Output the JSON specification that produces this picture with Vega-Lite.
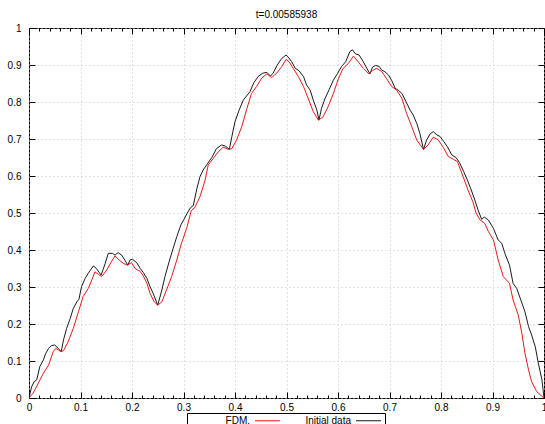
{
  "$schema": "https://vega.github.io/schema/vega-lite/v6.json",
  "width": 515,
  "height": 370,
  "autosize": {"type": "none"},
  "padding": {"left": 29, "top": 28, "right": 1, "bottom": 26},
  "background": "white",
  "title": {"text": "t=0.00585938", "fontSize": 10, "font": "Liberation Sans", "fontWeight": "normal", "color": "#000", "offset": 3, "anchor": "middle"},
  "config": {
    "view": {"stroke": "#000", "strokeWidth": 1},
    "font": "Liberation Sans",
    "axis": {"labelFont": "Liberation Sans", "labelFontSize": 10, "labelColor": "#000", "ticks": true, "tickColor": "#000", "tickOpacity": 1, "tickWidth": 1, "domain": false, "gridColor": "#c4c4c4", "gridDash": [1, 3], "gridWidth": 1}
  },
  "data": {"values": [
    {"s": "Initial data", "x": 0, "y": 0},
    {"s": "Initial data", "x": 0.005, "y": 0.03},
    {"s": "Initial data", "x": 0.01, "y": 0.044},
    {"s": "Initial data", "x": 0.015, "y": 0.049},
    {"s": "Initial data", "x": 0.021, "y": 0.085},
    {"s": "Initial data", "x": 0.028, "y": 0.103},
    {"s": "Initial data", "x": 0.032, "y": 0.119},
    {"s": "Initial data", "x": 0.038, "y": 0.134},
    {"s": "Initial data", "x": 0.044, "y": 0.142},
    {"s": "Initial data", "x": 0.05, "y": 0.143},
    {"s": "Initial data", "x": 0.057, "y": 0.134},
    {"s": "Initial data", "x": 0.0625, "y": 0.125},
    {"s": "Initial data", "x": 0.067, "y": 0.157},
    {"s": "Initial data", "x": 0.073, "y": 0.188},
    {"s": "Initial data", "x": 0.08, "y": 0.215},
    {"s": "Initial data", "x": 0.086, "y": 0.242},
    {"s": "Initial data", "x": 0.093, "y": 0.26},
    {"s": "Initial data", "x": 0.097, "y": 0.267},
    {"s": "Initial data", "x": 0.102, "y": 0.301},
    {"s": "Initial data", "x": 0.109, "y": 0.323},
    {"s": "Initial data", "x": 0.115, "y": 0.337},
    {"s": "Initial data", "x": 0.125, "y": 0.357},
    {"s": "Initial data", "x": 0.131, "y": 0.35},
    {"s": "Initial data", "x": 0.14, "y": 0.332},
    {"s": "Initial data", "x": 0.148, "y": 0.364},
    {"s": "Initial data", "x": 0.154, "y": 0.391},
    {"s": "Initial data", "x": 0.162, "y": 0.391},
    {"s": "Initial data", "x": 0.167, "y": 0.386},
    {"s": "Initial data", "x": 0.173, "y": 0.393},
    {"s": "Initial data", "x": 0.18, "y": 0.386},
    {"s": "Initial data", "x": 0.186, "y": 0.373},
    {"s": "Initial data", "x": 0.192, "y": 0.359},
    {"s": "Initial data", "x": 0.196, "y": 0.373},
    {"s": "Initial data", "x": 0.201, "y": 0.375},
    {"s": "Initial data", "x": 0.209, "y": 0.366},
    {"s": "Initial data", "x": 0.216, "y": 0.35},
    {"s": "Initial data", "x": 0.222, "y": 0.339},
    {"s": "Initial data", "x": 0.229, "y": 0.323},
    {"s": "Initial data", "x": 0.235, "y": 0.301},
    {"s": "Initial data", "x": 0.241, "y": 0.283},
    {"s": "Initial data", "x": 0.25, "y": 0.251},
    {"s": "Initial data", "x": 0.258, "y": 0.292},
    {"s": "Initial data", "x": 0.264, "y": 0.328},
    {"s": "Initial data", "x": 0.272, "y": 0.368},
    {"s": "Initial data", "x": 0.28, "y": 0.405},
    {"s": "Initial data", "x": 0.287, "y": 0.436},
    {"s": "Initial data", "x": 0.295, "y": 0.468},
    {"s": "Initial data", "x": 0.301, "y": 0.483},
    {"s": "Initial data", "x": 0.307, "y": 0.499},
    {"s": "Initial data", "x": 0.314, "y": 0.515},
    {"s": "Initial data", "x": 0.319, "y": 0.52},
    {"s": "Initial data", "x": 0.326, "y": 0.566},
    {"s": "Initial data", "x": 0.332, "y": 0.598},
    {"s": "Initial data", "x": 0.338, "y": 0.616},
    {"s": "Initial data", "x": 0.346, "y": 0.632},
    {"s": "Initial data", "x": 0.355, "y": 0.65},
    {"s": "Initial data", "x": 0.364, "y": 0.674},
    {"s": "Initial data", "x": 0.374, "y": 0.684},
    {"s": "Initial data", "x": 0.381, "y": 0.681},
    {"s": "Initial data", "x": 0.389, "y": 0.672},
    {"s": "Initial data", "x": 0.394, "y": 0.707},
    {"s": "Initial data", "x": 0.4, "y": 0.747},
    {"s": "Initial data", "x": 0.408, "y": 0.778},
    {"s": "Initial data", "x": 0.416, "y": 0.805},
    {"s": "Initial data", "x": 0.424, "y": 0.819},
    {"s": "Initial data", "x": 0.429, "y": 0.828},
    {"s": "Initial data", "x": 0.437, "y": 0.853},
    {"s": "Initial data", "x": 0.445, "y": 0.869},
    {"s": "Initial data", "x": 0.454, "y": 0.878},
    {"s": "Initial data", "x": 0.462, "y": 0.88},
    {"s": "Initial data", "x": 0.469, "y": 0.87},
    {"s": "Initial data", "x": 0.474, "y": 0.878},
    {"s": "Initial data", "x": 0.482, "y": 0.9},
    {"s": "Initial data", "x": 0.491, "y": 0.918},
    {"s": "Initial data", "x": 0.499, "y": 0.927},
    {"s": "Initial data", "x": 0.503, "y": 0.922},
    {"s": "Initial data", "x": 0.51, "y": 0.909},
    {"s": "Initial data", "x": 0.517, "y": 0.891},
    {"s": "Initial data", "x": 0.524, "y": 0.885},
    {"s": "Initial data", "x": 0.533, "y": 0.869},
    {"s": "Initial data", "x": 0.539, "y": 0.846},
    {"s": "Initial data", "x": 0.546, "y": 0.832},
    {"s": "Initial data", "x": 0.552, "y": 0.805},
    {"s": "Initial data", "x": 0.559, "y": 0.778},
    {"s": "Initial data", "x": 0.563, "y": 0.751},
    {"s": "Initial data", "x": 0.568, "y": 0.783},
    {"s": "Initial data", "x": 0.575, "y": 0.81},
    {"s": "Initial data", "x": 0.583, "y": 0.834},
    {"s": "Initial data", "x": 0.591, "y": 0.859},
    {"s": "Initial data", "x": 0.599, "y": 0.877},
    {"s": "Initial data", "x": 0.607, "y": 0.896},
    {"s": "Initial data", "x": 0.615, "y": 0.909},
    {"s": "Initial data", "x": 0.623, "y": 0.936},
    {"s": "Initial data", "x": 0.628, "y": 0.941},
    {"s": "Initial data", "x": 0.634, "y": 0.93},
    {"s": "Initial data", "x": 0.641, "y": 0.927},
    {"s": "Initial data", "x": 0.649, "y": 0.909},
    {"s": "Initial data", "x": 0.656, "y": 0.891},
    {"s": "Initial data", "x": 0.662, "y": 0.876},
    {"s": "Initial data", "x": 0.667, "y": 0.894},
    {"s": "Initial data", "x": 0.673, "y": 0.899},
    {"s": "Initial data", "x": 0.68, "y": 0.896},
    {"s": "Initial data", "x": 0.685, "y": 0.886},
    {"s": "Initial data", "x": 0.691, "y": 0.882},
    {"s": "Initial data", "x": 0.698, "y": 0.873},
    {"s": "Initial data", "x": 0.704, "y": 0.859},
    {"s": "Initial data", "x": 0.711, "y": 0.837},
    {"s": "Initial data", "x": 0.717, "y": 0.832},
    {"s": "Initial data", "x": 0.724, "y": 0.823},
    {"s": "Initial data", "x": 0.732, "y": 0.801},
    {"s": "Initial data", "x": 0.74, "y": 0.778},
    {"s": "Initial data", "x": 0.746, "y": 0.765},
    {"s": "Initial data", "x": 0.753, "y": 0.742},
    {"s": "Initial data", "x": 0.759, "y": 0.715},
    {"s": "Initial data", "x": 0.766, "y": 0.672},
    {"s": "Initial data", "x": 0.772, "y": 0.697},
    {"s": "Initial data", "x": 0.779, "y": 0.714},
    {"s": "Initial data", "x": 0.785, "y": 0.72},
    {"s": "Initial data", "x": 0.792, "y": 0.711},
    {"s": "Initial data", "x": 0.798, "y": 0.707},
    {"s": "Initial data", "x": 0.805, "y": 0.694},
    {"s": "Initial data", "x": 0.812, "y": 0.68},
    {"s": "Initial data", "x": 0.821, "y": 0.657},
    {"s": "Initial data", "x": 0.829, "y": 0.65},
    {"s": "Initial data", "x": 0.836, "y": 0.636},
    {"s": "Initial data", "x": 0.844, "y": 0.612},
    {"s": "Initial data", "x": 0.851, "y": 0.59},
    {"s": "Initial data", "x": 0.858, "y": 0.565},
    {"s": "Initial data", "x": 0.865, "y": 0.538},
    {"s": "Initial data", "x": 0.872, "y": 0.508},
    {"s": "Initial data", "x": 0.879, "y": 0.483},
    {"s": "Initial data", "x": 0.884, "y": 0.489},
    {"s": "Initial data", "x": 0.892, "y": 0.481},
    {"s": "Initial data", "x": 0.902, "y": 0.458},
    {"s": "Initial data", "x": 0.911, "y": 0.427},
    {"s": "Initial data", "x": 0.918, "y": 0.418},
    {"s": "Initial data", "x": 0.924, "y": 0.391},
    {"s": "Initial data", "x": 0.933, "y": 0.359},
    {"s": "Initial data", "x": 0.94, "y": 0.31},
    {"s": "Initial data", "x": 0.947, "y": 0.296},
    {"s": "Initial data", "x": 0.955, "y": 0.265},
    {"s": "Initial data", "x": 0.963, "y": 0.233},
    {"s": "Initial data", "x": 0.97, "y": 0.193},
    {"s": "Initial data", "x": 0.976, "y": 0.17},
    {"s": "Initial data", "x": 0.983, "y": 0.139},
    {"s": "Initial data", "x": 0.989, "y": 0.094},
    {"s": "Initial data", "x": 0.996, "y": 0.049},
    {"s": "Initial data", "x": 1, "y": 0},
    {"s": "FDM.", "x": 0, "y": 0},
    {"s": "FDM.", "x": 0.008, "y": 0.013},
    {"s": "FDM.", "x": 0.018, "y": 0.04},
    {"s": "FDM.", "x": 0.028, "y": 0.067},
    {"s": "FDM.", "x": 0.038, "y": 0.089},
    {"s": "FDM.", "x": 0.047, "y": 0.125},
    {"s": "FDM.", "x": 0.052, "y": 0.134},
    {"s": "FDM.", "x": 0.057, "y": 0.13},
    {"s": "FDM.", "x": 0.062, "y": 0.125},
    {"s": "FDM.", "x": 0.067, "y": 0.128},
    {"s": "FDM.", "x": 0.076, "y": 0.152},
    {"s": "FDM.", "x": 0.086, "y": 0.188},
    {"s": "FDM.", "x": 0.096, "y": 0.233},
    {"s": "FDM.", "x": 0.105, "y": 0.274},
    {"s": "FDM.", "x": 0.115, "y": 0.296},
    {"s": "FDM.", "x": 0.122, "y": 0.319},
    {"s": "FDM.", "x": 0.128, "y": 0.341},
    {"s": "FDM.", "x": 0.135, "y": 0.334},
    {"s": "FDM.", "x": 0.141, "y": 0.328},
    {"s": "FDM.", "x": 0.151, "y": 0.346},
    {"s": "FDM.", "x": 0.159, "y": 0.366},
    {"s": "FDM.", "x": 0.167, "y": 0.384},
    {"s": "FDM.", "x": 0.175, "y": 0.373},
    {"s": "FDM.", "x": 0.183, "y": 0.364},
    {"s": "FDM.", "x": 0.191, "y": 0.359},
    {"s": "FDM.", "x": 0.199, "y": 0.366},
    {"s": "FDM.", "x": 0.206, "y": 0.35},
    {"s": "FDM.", "x": 0.216, "y": 0.342},
    {"s": "FDM.", "x": 0.222, "y": 0.33},
    {"s": "FDM.", "x": 0.229, "y": 0.31},
    {"s": "FDM.", "x": 0.235, "y": 0.283},
    {"s": "FDM.", "x": 0.243, "y": 0.26},
    {"s": "FDM.", "x": 0.25, "y": 0.251},
    {"s": "FDM.", "x": 0.258, "y": 0.26},
    {"s": "FDM.", "x": 0.267, "y": 0.292},
    {"s": "FDM.", "x": 0.277, "y": 0.328},
    {"s": "FDM.", "x": 0.287, "y": 0.373},
    {"s": "FDM.", "x": 0.296, "y": 0.418},
    {"s": "FDM.", "x": 0.306, "y": 0.458},
    {"s": "FDM.", "x": 0.315, "y": 0.506},
    {"s": "FDM.", "x": 0.322, "y": 0.515},
    {"s": "FDM.", "x": 0.332, "y": 0.544},
    {"s": "FDM.", "x": 0.342, "y": 0.589},
    {"s": "FDM.", "x": 0.348, "y": 0.63},
    {"s": "FDM.", "x": 0.358, "y": 0.648},
    {"s": "FDM.", "x": 0.368, "y": 0.666},
    {"s": "FDM.", "x": 0.377, "y": 0.678},
    {"s": "FDM.", "x": 0.387, "y": 0.672},
    {"s": "FDM.", "x": 0.394, "y": 0.674},
    {"s": "FDM.", "x": 0.403, "y": 0.697},
    {"s": "FDM.", "x": 0.413, "y": 0.733},
    {"s": "FDM.", "x": 0.423, "y": 0.782},
    {"s": "FDM.", "x": 0.432, "y": 0.823},
    {"s": "FDM.", "x": 0.442, "y": 0.842},
    {"s": "FDM.", "x": 0.452, "y": 0.865},
    {"s": "FDM.", "x": 0.462, "y": 0.876},
    {"s": "FDM.", "x": 0.471, "y": 0.866},
    {"s": "FDM.", "x": 0.481, "y": 0.878},
    {"s": "FDM.", "x": 0.491, "y": 0.896},
    {"s": "FDM.", "x": 0.499, "y": 0.915},
    {"s": "FDM.", "x": 0.505, "y": 0.909},
    {"s": "FDM.", "x": 0.513, "y": 0.891},
    {"s": "FDM.", "x": 0.523, "y": 0.869},
    {"s": "FDM.", "x": 0.533, "y": 0.842},
    {"s": "FDM.", "x": 0.542, "y": 0.81},
    {"s": "FDM.", "x": 0.552, "y": 0.774},
    {"s": "FDM.", "x": 0.562, "y": 0.751},
    {"s": "FDM.", "x": 0.571, "y": 0.76},
    {"s": "FDM.", "x": 0.581, "y": 0.788},
    {"s": "FDM.", "x": 0.591, "y": 0.823},
    {"s": "FDM.", "x": 0.601, "y": 0.864},
    {"s": "FDM.", "x": 0.61, "y": 0.891},
    {"s": "FDM.", "x": 0.62, "y": 0.904},
    {"s": "FDM.", "x": 0.63, "y": 0.924},
    {"s": "FDM.", "x": 0.639, "y": 0.909},
    {"s": "FDM.", "x": 0.649, "y": 0.891},
    {"s": "FDM.", "x": 0.659, "y": 0.877},
    {"s": "FDM.", "x": 0.667, "y": 0.885},
    {"s": "FDM.", "x": 0.675, "y": 0.891},
    {"s": "FDM.", "x": 0.685, "y": 0.882},
    {"s": "FDM.", "x": 0.694, "y": 0.864},
    {"s": "FDM.", "x": 0.704, "y": 0.842},
    {"s": "FDM.", "x": 0.714, "y": 0.832},
    {"s": "FDM.", "x": 0.724, "y": 0.81},
    {"s": "FDM.", "x": 0.733, "y": 0.77},
    {"s": "FDM.", "x": 0.743, "y": 0.734},
    {"s": "FDM.", "x": 0.753, "y": 0.697},
    {"s": "FDM.", "x": 0.766, "y": 0.672},
    {"s": "FDM.", "x": 0.775, "y": 0.684},
    {"s": "FDM.", "x": 0.785, "y": 0.705},
    {"s": "FDM.", "x": 0.795, "y": 0.697},
    {"s": "FDM.", "x": 0.805, "y": 0.676},
    {"s": "FDM.", "x": 0.814, "y": 0.653},
    {"s": "FDM.", "x": 0.824, "y": 0.645},
    {"s": "FDM.", "x": 0.832, "y": 0.639},
    {"s": "FDM.", "x": 0.843, "y": 0.598},
    {"s": "FDM.", "x": 0.853, "y": 0.56},
    {"s": "FDM.", "x": 0.862, "y": 0.53},
    {"s": "FDM.", "x": 0.868, "y": 0.5},
    {"s": "FDM.", "x": 0.876, "y": 0.481},
    {"s": "FDM.", "x": 0.885, "y": 0.472},
    {"s": "FDM.", "x": 0.892, "y": 0.45},
    {"s": "FDM.", "x": 0.902, "y": 0.427},
    {"s": "FDM.", "x": 0.911, "y": 0.373},
    {"s": "FDM.", "x": 0.921, "y": 0.328},
    {"s": "FDM.", "x": 0.933, "y": 0.31},
    {"s": "FDM.", "x": 0.94, "y": 0.265},
    {"s": "FDM.", "x": 0.95, "y": 0.224},
    {"s": "FDM.", "x": 0.957, "y": 0.175},
    {"s": "FDM.", "x": 0.963, "y": 0.121},
    {"s": "FDM.", "x": 0.97, "y": 0.076},
    {"s": "FDM.", "x": 0.976, "y": 0.044},
    {"s": "FDM.", "x": 0.986, "y": 0.017},
    {"s": "FDM.", "x": 1, "y": 0}
  ]},
  "layer": [
    {
      "mark": {"type": "line", "strokeWidth": 1, "clip": true},
      "encoding": {
        "x": {"field": "x", "type": "quantitative", "title": null,
          "scale": {"domain": [0, 1], "nice": false, "zero": false},
          "axis": {"orient": "bottom", "labelFlush": false, "labelOverlap": false,
            "values": [0,0.1,0.2,0.3,0.4,0.5,0.6,0.7,0.8,0.9,1],
            "labelExpr": "format(datum.value, '~g')",
            "offset": -6, "ticks": true, "tickColor": "#000", "tickSize": 6, "labelPadding": 4, "grid": true}},
        "y": {"field": "y", "type": "quantitative", "title": null,
          "scale": {"domain": [0, 1], "nice": false, "zero": false},
          "axis": {"orient": "left", "values": [0,0.1,0.2,0.3,0.4,0.5,0.6,0.7,0.8,0.9,1], "labelExpr": "format(datum.value, '~g')",
            "offset": -6, "ticks": true, "tickColor": "#000", "tickSize": 6, "labelPadding": 8, "grid": true}},
        "color": {"field": "s", "type": "nominal",
          "scale": {"domain": ["FDM.", "Initial data"], "range": ["#e41a1c", "#1a1a1a"]},
          "legend": {"orient": "none", "legendX": 158, "legendY": 385, "direction": "horizontal", "title": null,
            "strokeColor": "#000", "padding": 2, "labelFontSize": 10, "labelFont": "Liberation Sans", "labelColor": "#000",
            "symbolType": "M-2.5,0H2.5", "symbolSize": 100, "symbolStrokeWidth": 1, "symbolOffset": 73,
            "labelAlign": "right", "labelOffset": -23, "columnPadding": 8, "gridAlign": "all"}}
      }
    },
    {
      "mark": {"type": "line", "opacity": 0},
      "encoding": {
        "x": {"field": "x", "type": "quantitative", "title": null,
          "scale": {"domain": [0, 1], "nice": false, "zero": false},
          "axis": {"orient": "top", "labels": false, "grid": false, "offset": -6, "ticks": true, "tickColor": "#000", "tickSize": 6,
            "values": [0,0.1,0.2,0.3,0.4,0.5,0.6,0.7,0.8,0.9,1]}},
        "y": {"field": "y", "type": "quantitative", "title": null,
          "scale": {"domain": [0, 1], "nice": false, "zero": false},
          "axis": {"orient": "right", "labels": false, "grid": false, "offset": -6, "ticks": true, "tickColor": "#000", "tickSize": 6, "values": [0,0.1,0.2,0.3,0.4,0.5,0.6,0.7,0.8,0.9,1]}},
        "detail": {"field": "s"}
      }
    },
    {
      "mark": {"type": "line", "opacity": 0},
      "encoding": {
        "x": {"field": "x", "type": "quantitative", "title": null,
          "scale": {"domain": [0, 1], "nice": false, "zero": false},
          "axis": {"orient": "bottom", "labels": false, "grid": false, "offset": -3, "ticks": true, "tickColor": "#000", "tickSize": 3,
            "values": [0.02,0.04,0.06,0.08,0.12,0.14,0.16,0.18,0.22,0.24,0.26,0.28,0.32,0.34,0.36,0.38,0.42,0.44,0.46,0.48,0.52,0.54,0.56,0.58,0.62,0.64,0.66,0.68,0.72,0.74,0.76,0.78,0.82,0.84,0.86,0.88,0.92,0.94,0.96,0.98]}},
        "y": {"field": "y", "type": "quantitative", "scale": {"domain": [0, 1], "nice": false, "zero": false}, "axis": null},
        "detail": {"field": "s"}
      }
    },
    {
      "mark": {"type": "line", "opacity": 0},
      "encoding": {
        "x": {"field": "x", "type": "quantitative", "title": null,
          "scale": {"domain": [0, 1], "nice": false, "zero": false},
          "axis": {"orient": "top", "labels": false, "grid": false, "offset": -3, "ticks": true, "tickColor": "#000", "tickSize": 3,
            "values": [0.02,0.04,0.06,0.08,0.12,0.14,0.16,0.18,0.22,0.24,0.26,0.28,0.32,0.34,0.36,0.38,0.42,0.44,0.46,0.48,0.52,0.54,0.56,0.58,0.62,0.64,0.66,0.68,0.72,0.74,0.76,0.78,0.82,0.84,0.86,0.88,0.92,0.94,0.96,0.98]}},
        "y": {"field": "y", "type": "quantitative", "scale": {"domain": [0, 1], "nice": false, "zero": false}, "axis": null},
        "detail": {"field": "s"}
      }
    }
  ],
  "resolve": {"axis": {"x": "independent", "y": "independent"}}
}
